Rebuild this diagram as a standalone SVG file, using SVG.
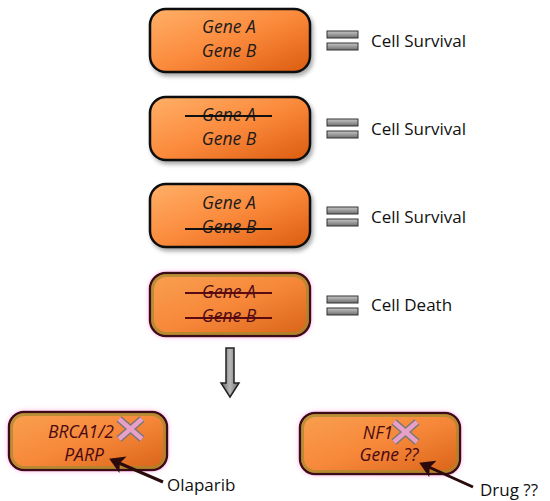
<svg xmlns="http://www.w3.org/2000/svg" width="550" height="501" viewBox="0 0 550 501">
<defs>
<linearGradient id="og" x1="0" y1="0" x2="1" y2="1">
<stop offset="0" stop-color="#ffb068"/>
<stop offset="0.5" stop-color="#fb8a3c"/>
<stop offset="1" stop-color="#dc5c10"/>
</linearGradient>
<linearGradient id="og2" x1="0" y1="0" x2="1" y2="1">
<stop offset="0" stop-color="#f9a050"/>
<stop offset="0.5" stop-color="#f7883a"/>
<stop offset="1" stop-color="#d86218"/>
</linearGradient>
<linearGradient id="bar" x1="0" y1="0" x2="0" y2="1">
<stop offset="0" stop-color="#c8c8c8"/>
<stop offset="1" stop-color="#6e6e6e"/>
</linearGradient>
<linearGradient id="arr" x1="0" y1="0" x2="1" y2="0">
<stop offset="0" stop-color="#6a6a6a"/>
<stop offset="0.5" stop-color="#b8b8b8"/>
<stop offset="1" stop-color="#6a6a6a"/>
</linearGradient>
<filter id="sh" x="-10%" y="-10%" width="125%" height="130%">
<feDropShadow dx="2" dy="3" stdDeviation="2" flood-color="#000" flood-opacity="0.35"/>
</filter>
<filter id="glow" x="-10%" y="-15%" width="125%" height="135%">
<feDropShadow dx="0" dy="0" stdDeviation="2" flood-color="#ff66cc" flood-opacity="0.5"/>
</filter>
<marker id="ah" markerWidth="6" markerHeight="6" refX="4" refY="3" orient="auto" markerUnits="strokeWidth">
<path d="M0,0 L5,3 L0,6 L1.2,3 Z" fill="#2a0a0a"/>
</marker>
</defs>
<style>
.box{fill:url(#og);stroke:#111;stroke-width:2.5;filter:url(#sh)}
.boxd{fill:url(#og2);stroke:#3a0a14;stroke-width:2.5;filter:url(#glow)}
.rim{fill:none;stroke:#a08a30;stroke-width:3;opacity:0.7}
.g{font-family:"Open Sans","DejaVu Sans",sans-serif;font-style:italic;font-size:17.5px;fill:#1a1a1a;text-anchor:middle}
.gd{font-family:"Open Sans","DejaVu Sans",sans-serif;font-style:italic;font-size:17.5px;fill:#4a0a14;text-anchor:middle}
.lbl{font-family:"Open Sans","DejaVu Sans",sans-serif;font-size:17px;fill:#111}
.bar{fill:url(#bar);stroke:#333;stroke-width:1}
.st{stroke:#111;stroke-width:2}
.std{stroke:#5a0a10;stroke-width:2}
.x{fill:none;stroke:#777;stroke-width:7.5;stroke-linecap:butt}
.xi{fill:none;stroke:#e8a0c8;stroke-width:4.5;stroke-linecap:butt}
.pt{stroke:#2a0a0a;stroke-width:3;fill:none}
</style>

<g id="node1">
<rect class="box" x="150" y="9" width="160" height="63" rx="16"/>
<text class="g" x="229" y="33">Gene A</text>
<text class="g" x="229" y="57">Gene B</text>
</g>
<g id="eq1">
<rect class="bar" x="327" y="31" width="31" height="7"/>
<rect class="bar" x="327" y="43" width="31" height="7"/>
<text class="lbl" x="371" y="47">Cell Survival</text>
</g>

<g id="node2">
<rect class="box" x="150" y="97" width="160" height="63" rx="16"/>
<text class="g" x="229" y="121">Gene A</text>
<line class="st" x1="185" y1="116" x2="272" y2="116"/>
<text class="g" x="229" y="145">Gene B</text>
</g>
<g id="eq2">
<rect class="bar" x="327" y="119" width="31" height="7"/>
<rect class="bar" x="327" y="131" width="31" height="7"/>
<text class="lbl" x="371" y="135">Cell Survival</text>
</g>

<g id="node3">
<rect class="box" x="150" y="184" width="160" height="63" rx="16"/>
<text class="g" x="229" y="209">Gene A</text>
<text class="g" x="229" y="233">Gene B</text>
<line class="st" x1="185" y1="229" x2="272" y2="229"/>
</g>
<g id="eq3">
<rect class="bar" x="327" y="207" width="31" height="7"/>
<rect class="bar" x="327" y="219" width="31" height="7"/>
<text class="lbl" x="371" y="223">Cell Survival</text>
</g>

<g id="node4">
<rect class="boxd" x="150" y="273" width="160" height="63" rx="16"/>
<rect class="rim" x="152.5" y="275.5" width="155" height="58" rx="14"/>
<text class="gd" x="229" y="298">Gene A</text>
<line class="std" x1="185" y1="293" x2="272" y2="293"/>
<text class="gd" x="229" y="322">Gene B</text>
<line class="std" x1="185" y1="318" x2="272" y2="318"/>
</g>
<g id="eq4">
<rect class="bar" x="327" y="296" width="31" height="7"/>
<rect class="bar" x="327" y="308" width="31" height="7"/>
<text class="lbl" x="371" y="311">Cell Death</text>
</g>

<g id="downarrow">
<path d="M226,348 L234,348 L234,383 L239,383 L230,397 L221,383 L226,383 Z" fill="url(#arr)" stroke="#222" stroke-width="1.5"/>
</g>

<g id="node5">
<rect class="boxd" x="9" y="412" width="158" height="58" rx="15"/>
<rect class="rim" x="11.5" y="414.5" width="153" height="53" rx="13"/>
<text class="gd" x="81" y="438">BRCA1/2</text>
<text class="gd" x="84" y="461">PARP</text>
<g id="x1">
<path class="x" d="M119,419 L142,439 M142,419 L119,439"/>
<path class="xi" d="M119,419 L142,439 M142,419 L119,439"/>
</g>
</g>

<g id="node6">
<rect class="boxd" x="300" y="413" width="160" height="61" rx="15"/>
<rect class="rim" x="302.5" y="415.5" width="155" height="56" rx="13"/>
<text class="gd" x="378" y="439">NF1</text>
<text class="gd" x="389" y="461">Gene ??</text>
<g id="x2">
<path class="x" d="M394,422 L417,442 M417,422 L394,442"/>
<path class="xi" d="M394,422 L417,442 M417,422 L394,442"/>
</g>
</g>

<g id="connectors">
<line class="pt" x1="163" y1="482" x2="112" y2="460" marker-end="url(#ah)"/>
<line class="pt" x1="473" y1="487" x2="422" y2="464" marker-end="url(#ah)"/>
</g>
<g id="labels">
<text class="lbl" x="167" y="491">Olaparib</text>
<text class="lbl" x="480" y="496">Drug ??</text>
</g>
</svg>
